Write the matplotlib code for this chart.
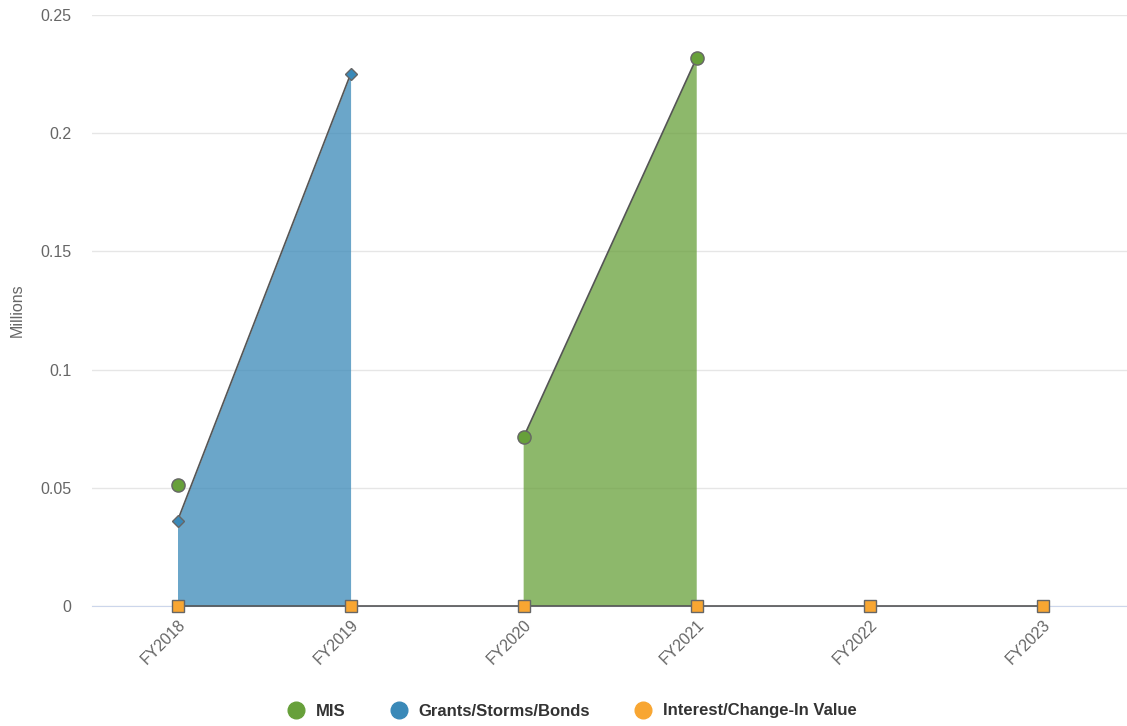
import numpy as np
import matplotlib
matplotlib.use("Agg")
from matplotlib import pyplot as plt
from matplotlib.lines import Line2D

years = ["FY2018", "FY2019", "FY2020", "FY2021", "FY2022", "FY2023"]
mis = [0.051, None, 0.0715, 0.232, None, None]
grants = [0.036, 0.225, None, None, None, None]
interest = [0, 0, 0, 0, 0, 0]

names = ["MIS", "Grants/Storms/Bonds", "Interest/Change-In Value"]
colors = ["#67a03a", "#3a89b8", "#f8a632"]
markers = ["o", "D", "s"]
msizes = [9.5, 6.5, 9]

plt.rcParams['font.family'] = ['Liberation Sans', 'DejaVu Sans']

fig = plt.figure(figsize=(11.27, 7.26), dpi=100)
ax = fig.add_axes([92/1127, 1-606/726, 1-92/1127, (606-15)/726])

x = np.arange(len(years))

def to_arr(v):
    return np.array([np.nan if a is None else a for a in v], dtype=float)

series = [to_arr(mis), to_arr(grants), to_arr(interest)]

for i, (ys, c, m, ms) in enumerate(zip(series, colors, markers, msizes)):
    ax.fill_between(x, 0, ys, color=c, alpha=0.75, linewidth=0, zorder=2)
    ax.plot(x, ys, color="#555555", linewidth=1.2, zorder=3, clip_on=False)
    ax.plot(x, ys, linestyle="none", marker=m, markersize=ms,
            markerfacecolor=c, markeredgecolor="#666666", markeredgewidth=1,
            zorder=5, clip_on=False)

ax.set_xlim(-0.494, 5.486)
ax.set_ylim(0, 0.25)
ax.set_yticks([0, 0.05, 0.1, 0.15, 0.2, 0.25])
ax.set_yticklabels(["0", "0.05", "0.1", "0.15", "0.2", "0.25"])
ax.set_xticks(x)
ax.set_xticklabels(years, rotation=45, ha="right", rotation_mode="anchor")

ax.grid(axis="y", color="#e6e6e6", linewidth=1, zorder=0)
ax.set_axisbelow(True)
for s in ["top", "right", "left"]:
    ax.spines[s].set_visible(False)
ax.spines["bottom"].set_color("#ccd6eb")
ax.spines["bottom"].set_zorder(1)
ax.tick_params(axis="y", length=0, labelsize=11.5, labelcolor="#666666", pad=15)
ax.tick_params(axis="x", length=0, labelsize=11.5, labelcolor="#666666", pad=8)

fig.text(17/1127, 1-310/726, "Millions", rotation=90, ha="center", va="center",
         fontsize=11.5, color="#666666")

handles = [Line2D([], [], linestyle="none", marker="o", markersize=12,
                  markerfacecolor=c, markeredgecolor=c) for c in colors]
leg = fig.legend(handles, names, loc="center", bbox_to_anchor=(568/1127, 1-711/726),
                 ncol=3, frameon=False, handletextpad=0.2, columnspacing=2.2,
                 prop={"weight": "bold", "size": 12})
for t in leg.get_texts():
    t.set_color("#333333")

fig.savefig("out.png", dpi=100)
